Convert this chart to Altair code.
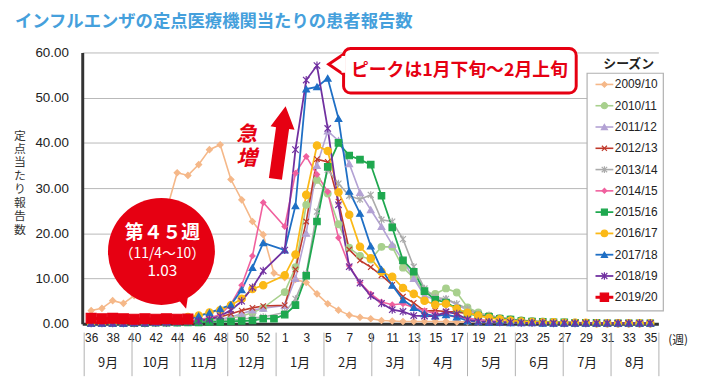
import json
import altair as alt
import pandas as pd

# ---------------- data ----------------
week_labels = [36, 37, 38, 39, 40, 41, 42, 43, 44, 45, 46, 47, 48, 49, 50, 51, 52, 53,
               1, 2, 3, 4, 5, 6, 7, 8, 9, 10, 11, 12, 13, 14, 15, 16, 17, 18, 19, 20,
               21, 22, 23, 24, 25, 26, 27, 28, 29, 30, 31, 32, 33, 34, 35]
tick_idx = [0, 2, 4, 6, 8, 10, 12, 14, 16, 18, 20, 22, 24, 26, 28, 30, 32, 34, 36,
            38, 40, 42, 44, 46, 48, 50, 52]
month_names = ["9月", "10月", "11月", "12月", "1月", "2月", "3月", "4月", "5月", "6月", "7月", "8月"]
month_bounds = [-0.65, 3.8, 8.25, 12.7, 17.2, 21.65, 26.1, 30.5, 35.0, 39.45, 43.9, 48.35, 52.8]
seasons = ["2009/10", "2010/11", "2011/12", "2012/13", "2013/14", "2014/15",
           "2015/16", "2016/17", "2017/18", "2018/19", "2019/20"]
y_title_chars = ["定", "点", "当", "た", "り", "報", "告", "数"]

s0910 = [2.9, 3.4, 5.1, 4.5, 6.2, 10.5, 17.0, 25.0, 33.4, 32.8,
         35.2, 38.5, 39.6, 31.9, 27.4, 22.6, 19.7,
         11.2,
         10.2, 9.8, 9.1, 6.6, 4.4, 3.0, 1.9, 1.4, 1.1, 0.7, 0.6,
         0.5, 0.5, 0.5, 0.5, 0.5, 0.4, 0.4, 0.3, 0.3, 0.3, 0.2, 0.2,
         0.2, 0.1, 0.1, 0.1, 0.1, 0.1, 0.1, 0.1, 0.1, 0.1, 0.1, 0.1]
s1011 = [0.3, 0.3, 0.3, 0.3, 0.3, 0.3, 0.3, 0.4, 0.4, 0.5,
         0.6, 0.7, 0.9, 1.2, 1.7, 2.4, 3.5,
         None,
         7.0, 12.5, 26.3, 31.8, 28.8, 22.0, 16.8, 15.0, 14.2, 17.0, 17.0,
         12.4, 10.2, 6.9, 6.6, 7.8, 6.9, 3.6, 2.5, 1.8, 1.3, 1.0, 0.8,
         0.6, 0.5, 0.4, 0.3, 0.3, 0.2, 0.2, 0.2, 0.1, 0.1, 0.1, 0.1]
s1112 = [0.1, 0.1, 0.1, 0.1, 0.1, 0.2, 0.2, 0.2, 0.3, 0.3,
         0.4, 0.6, 1.0, 1.5, 2.2, 3.0, 3.4,
         None,
         4.0, 10.0, 20.0, 35.0, 42.6, 40.5, 35.4, 29.0, 25.2, 21.5, 17.5,
         14.0, 10.0, 6.2, 5.3, 5.5, 4.2, 3.0, 2.0, 1.5, 1.0, 0.8, 0.6,
         0.5, 0.4, 0.3, 0.3, 0.2, 0.2, 0.1, 0.1, 0.1, 0.1, 0.1, 0.1]
s1213 = [0.1, 0.1, 0.1, 0.1, 0.1, 0.1, 0.2, 0.2, 0.3, 0.4,
         0.7, 1.0, 1.5, 2.2, 2.9, 3.5, 3.9,
         None,
         4.1, 12.0, 22.6, 36.4, 35.8, 27.0, 16.4, 14.0, 12.5, 10.7, 8.6,
         6.0, 4.6, 2.8, 2.9, 2.7, 2.6, 2.2, 2.0, 1.8, 1.3, 1.0, 0.7,
         0.5, 0.4, 0.3, 0.3, 0.2, 0.2, 0.2, 0.1, 0.1, 0.1, 0.1, 0.1]
s1314 = [0.2, 0.2, 0.2, 0.2, 0.2, 0.2, 0.3, 0.3, 0.3, 0.3,
         0.4, 0.5, 0.6, 0.8, 1.0, 1.3, 1.5,
         None,
         2.5, 5.5, 11.0, 24.8, 34.0, 31.0, 28.3, 27.5, 28.5, 23.0, 22.6,
         18.7, 12.6, 7.8, 5.8, 5.5, 4.4, 3.3, 2.2, 1.8, 1.3, 1.0, 0.7,
         0.5, 0.4, 0.3, 0.3, 0.2, 0.2, 0.2, 0.1, 0.1, 0.1, 0.1, 0.1]
s1415 = [0.1, 0.1, 0.1, 0.1, 0.1, 0.2, 0.2, 0.3, 0.4, 0.6,
         0.9, 1.3, 2.0, 4.3, 8.5, 15.0, 26.8,
         None,
         21.5, 33.3, 37.0, 33.0, 29.2, 19.0, 12.8, 9.1, 6.6, 4.8, 4.2,
         4.4, 3.6, 2.9, 2.2, 1.8, 1.5, 1.2, 0.9, 0.7, 0.5, 0.4, 0.3,
         0.3, 0.2, 0.2, 0.2, 0.1, 0.1, 0.1, 0.1, 0.1, 0.1, 0.1, 0.1]
s1516 = [0.1, 0.1, 0.1, 0.1, 0.1, 0.1, 0.2, 0.2, 0.2, 0.3,
         0.3, 0.4, 0.4, 0.5, 0.6, 0.7, 1.1,
         1.1,
         2.0, 4.1, 10.6, 22.6, 34.7, 40.0, 37.2, 36.3, 35.2, 28.3, 21.3,
         14.0, 11.5, 7.2, 5.3, 4.7, 3.3, 2.2, 1.8, 1.5, 1.1, 0.9, 0.6,
         0.5, 0.4, 0.3, 0.3, 0.2, 0.2, 0.2, 0.1, 0.1, 0.1, 0.1, 0.1]
s1617 = [0.2, 0.2, 0.2, 0.3, 0.3, 0.4, 0.5, 0.6, 0.8, 1.5,
         1.8, 2.5, 3.0, 4.1, 5.5, 7.7, 8.5,
         None,
         10.7, 15.3, 28.5, 39.4, 38.2, 29.1, 24.1, 17.0, 14.5, 11.5, 10.4,
         7.9, 6.6, 5.1, 4.2, 4.4, 3.3, 2.4, 1.8, 1.3, 1.0, 0.7, 0.5,
         0.4, 0.3, 0.3, 0.2, 0.2, 0.2, 0.1, 0.1, 0.1, 0.1, 0.1, 0.1]
s1718 = [0.1, 0.1, 0.1, 0.1, 0.2, 0.2, 0.3, 0.4, 0.5, 0.8,
         1.7, 2.4, 3.3, 4.2, 7.5, 12.4, 17.9,
         None,
         16.3, 26.1, 51.9, 52.4, 54.3, 45.4, 29.3, 24.4, 17.2, 12.0, 8.5,
         5.3, 3.6, 2.2, 1.7, 2.0, 1.5, 0.6, 0.4, 0.3, 0.3, 0.2, 0.2,
         0.2, 0.1, 0.1, 0.1, 0.1, 0.1, 0.1, 0.1, 0.1, 0.1, 0.1, 0.1]
s1819 = [0.1, 0.1, 0.1, 0.1, 0.1, 0.1, 0.2, 0.2, 0.3, 0.4,
         0.6, 1.0, 1.7, 3.0, 5.0, 8.0, 11.7,
         None,
         16.3, 38.5, 53.9, 57.1, 43.2, 26.3, 12.6, 9.0, 6.2, 4.5, 3.1,
         2.7, 1.8, 1.7, 1.7, 2.6, 2.2, 0.9, 0.5, 0.4, 0.3, 0.3, 0.2,
         0.2, 0.2, 0.1, 0.1, 0.1, 0.1, 0.1, 0.1, 0.1, 0.1, 0.1, 0.1]
s1920 = [1.2, 1.1, 1.2, 1.1, 1.0, 1.1, 1.0, 1.1, 1.0, 1.03]

series = [s0910, s1011, s1112, s1213, s1314, s1415, s1516, s1617, s1718, s1819, s1920]

# ---------------- styles ----------------
RED = "#E60012"
JP = "Noto Sans CJK JP"
LAT = "Liberation Sans"
X_PATH = "M-1,-1L1,1M-1,1L1,-1"
AST_PATH = "M-1,-1L1,1M-1,1L1,-1M0,-1.25L0,1.25"
colors = ["#F5B889", "#A8D08D", "#B3A2D4", "#C0392B", "#ABABAB", "#F0609E",
          "#1FA84F", "#FBB917", "#1F6FC5", "#7030A0", RED]
shapes = ["diamond", "circle", "triangle-up", X_PATH, AST_PATH, "diamond",
          "square", "circle", "triangle-up", AST_PATH, "square"]
msizes = [36, 45, 45, 30, 36, 28, 42, 55, 45, 42, 100]
leg_msizes = [30, 38, 38, 26, 30, 24, 36, 42, 38, 36, 70]
lwidths = [1.6, 1.6, 1.6, 1.6, 1.6, 1.6, 1.8, 1.8, 1.8, 1.8, 3.0]

rows = []
for k, (name, vals) in enumerate(zip(seasons, series)):
    for i, v in enumerate(vals):
        if v is None:
            continue
        rows.append({"season": name, "idx": i, "v": v, "col": colors[k],
                     "shp": shapes[k], "msize": msizes[k], "lw": lwidths[k]})
df = pd.DataFrame(rows)

leg_df = pd.DataFrame({"season": seasons, "col": colors, "shp": shapes,
                       "msize": leg_msizes, "lw": lwidths})
bounds_df = pd.DataFrame({"idx": month_bounds})
months_df = pd.DataFrame({
    "idx": [(month_bounds[i] + month_bounds[i + 1]) / 2 for i in range(len(month_names))],
    "m": month_names})
ytitle_df = pd.DataFrame({"ch": y_title_chars, "pos": list(range(len(y_title_chars)))})
one = pd.DataFrame({"k": [0]})

label_expr = json.dumps(week_labels).replace(" ", "") + "[datum.value]"

X = alt.X("idx:Q",
          scale=alt.Scale(domain=[-0.83, 52.75], nice=False, zero=False),
          title="",
          axis=alt.Axis(values=tick_idx, labelExpr=label_expr, grid=False, ticks=False,
                        domainColor="#333", domainWidth=3, labelFont=LAT, labelFontSize=12,
                        labelColor="#222", labelPadding=9, labelOverlap=False,
                        labelFlush=False, labelBound=False))
Y = alt.Y("v:Q",
          scale=alt.Scale(domain=[0, 60], nice=False, zero=True),
          title="",
          axis=alt.Axis(values=[0, 10, 20, 30, 40, 50, 60], format=".2f", ticks=False,
                        grid=True, gridColor="#b8b8b8", gridWidth=1,
                        domainColor="#333", domainWidth=3, labelFont=LAT,
                        labelFontSize=13.5, labelColor="#222", labelPadding=14))


def txt(text, x, y, size, color="#222", weight="normal", font=JP, align="center",
        baseline="middle", style="normal"):
    return alt.Chart(one).mark_text(
        text=text, fontSize=size, color=color, fontWeight=weight, font=font,
        align=align, baseline=baseline, fontStyle=style
    ).encode(x=alt.value(x), y=alt.value(y))


# y-axis title, stacked characters (one text per character, own point scale)
TY = alt.Y("pos:O", scale=alt.Scale(type="point", domain=list(range(len(y_title_chars))),
                                    range=[84, 179], padding=0), axis=None)
y_title = alt.Chart(ytitle_df).mark_text(
    fontSize=12, color="#333", font=JP, align="center", baseline="middle").encode(
    x=alt.value(-63), y=TY, text="ch:N")

# month separators and labels below the axis
seps = alt.Chart(bounds_df).mark_rule(color="#b0b0b0", strokeWidth=1).encode(
    x=X, y=alt.value(283), y2=alt.value(327))
mlabels = alt.Chart(months_df).mark_text(font=JP, fontSize=13, color="#222").encode(
    x=X, y=alt.value(314), text="m:N")

lines = alt.Chart(df).mark_line().encode(
    x=X, y=Y, detail="season:N", order=alt.Order("idx:Q"),
    stroke=alt.Stroke("col:N", scale=None),
    strokeWidth=alt.StrokeWidth("lw:Q", scale=None))
points = alt.Chart(df).mark_point(opacity=1, strokeWidth=1.2).encode(
    x=X, y=Y,
    shape=alt.Shape("shp:N", scale=None),
    size=alt.Size("msize:Q", scale=None),
    fill=alt.Fill("col:N", scale=None),
    stroke=alt.Stroke("col:N", scale=None))

# annotations
title = txt("インフルエンザの定点医療機関当たりの患者報告数", -68, -31, 17.5,
            color="#45A0DC", weight="bold", align="left")
week_unit = txt("(週)", 602, 290, 12, color="#222")

bubble = alt.Chart(one).mark_point(shape="circle", size=11664, filled=True,
                                   color=RED, opacity=1).encode(
    x=alt.value(80), y=alt.value(201))
bubble_tail = alt.Chart(one).mark_point(shape="M-1,-1L1,-1L0.7,1Z", size=196,
                                        filled=True, color=RED, opacity=1).encode(
    x=alt.value(100), y=alt.value(252))
b1 = txt("第４５週", 81, 182, 19, color="white", weight="bold")
b2 = txt("（11/4～10）", 81, 204, 14, color="white")
b3 = txt("1.03", 81, 221, 15.5, color="white")

kyu = txt("急", 166, 83, 21, color=RED, weight="bold", style="italic")
zo = txt("増", 166, 108, 21, color=RED, weight="bold", style="italic")
arrow = alt.Chart(one).mark_point(
    shape="M0,-1L0.33,-0.4L0.18,-0.4L0.18,1L-0.18,1L-0.18,-0.4L-0.33,-0.4Z",
    size=5476, filled=True, color=RED, opacity=1, angle=8).encode(
    x=alt.value(200.3), y=alt.value(91))

callout_box = alt.Chart(one).mark_rect(fill="white", stroke=RED, strokeWidth=3,
                                       cornerRadius=7).encode(
    x=alt.value(264), x2=alt.value(499), y=alt.value(-4), y2=alt.value(41))
callout_tail = alt.Chart(one).mark_point(shape="M1,-1.35L-1,0L1,1.35Z", size=225,
                                         filled=True, fill="white", stroke=RED,
                                         strokeWidth=3, opacity=1).encode(
    x=alt.value(256.5), y=alt.value(12))
callout_seam = alt.Chart(one).mark_rule(color="white", strokeWidth=4).encode(
    x=alt.value(264), y=alt.value(3.5), y2=alt.value(20.5))
callout_text = txt("ピークは1月下旬～2月上旬", 381, 19, 18, color=RED, weight="bold")

main = alt.layer(seps, mlabels, lines, points, bubble, bubble_tail, b1, b2, b3,
                 kyu, zo, arrow, callout_box, callout_tail, callout_seam,
                 callout_text, title, week_unit)

# legend
LY = alt.Y("season:N", scale=alt.Scale(type="point", domain=seasons,
                                       range=[32.3, 247.3], padding=0), axis=None)
leg_box = alt.Chart(one).mark_rect(fill="white", stroke="#b0b0b0", strokeWidth=1.2).encode(
    x=alt.value(510), x2=alt.value(587), y=alt.value(21), y2=alt.value(261))
leg_title = txt("シーズン", 552, 11.5, 13, color="#222", weight="bold")
leg_lines = alt.Chart(leg_df).mark_rule().encode(
    x=alt.value(518.5), x2=alt.value(536.5), y=LY,
    stroke=alt.Stroke("col:N", scale=None),
    strokeWidth=alt.StrokeWidth("lw:Q", scale=None))
leg_pts = alt.Chart(leg_df).mark_point(opacity=1, strokeWidth=1.2).encode(
    x=alt.value(527.5), y=LY,
    shape=alt.Shape("shp:N", scale=None),
    size=alt.Size("msize:Q", scale=None),
    fill=alt.Fill("col:N", scale=None),
    stroke=alt.Stroke("col:N", scale=None))
leg_text = alt.Chart(leg_df).mark_text(align="left", baseline="middle", font=LAT,
                                       fontSize=12, color="#222").encode(
    x=alt.value(538), y=LY, text="season:N")
legend = alt.layer(leg_box, leg_title, leg_lines, leg_pts, leg_text)

chart = alt.layer(main, legend, y_title).resolve_scale(y="independent").properties(
    width=582, height=274,
    padding={"left": 75, "top": 43, "right": 36, "bottom": 60},
    autosize=alt.AutoSizeParams(type="none"),
    background="white",
).configure_view(strokeWidth=0)

chart.save("out.html", embed_options={"renderer": "svg", "actions": False})
